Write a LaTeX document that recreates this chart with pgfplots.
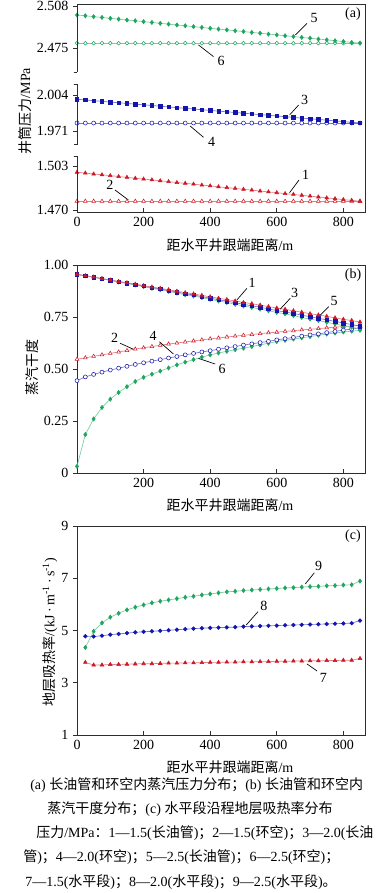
\documentclass[border=0pt]{standalone}
\usepackage{fontspec}
\setmainfont{Liberation Serif}
\newfontfamily\cjk{Noto Sans CJK SC}
\usepackage{pgfplots}
\pgfplotsset{compat=1.18}
\usepackage{pgfplotstable}
\newcommand\fs{\fontsize{10.5}{12.6}\selectfont}
\definecolor{rM}{RGB}{205,25,35}
\definecolor{rL}{RGB}{228,125,135}
\definecolor{bM}{RGB}{20,20,175}
\definecolor{bL}{RGB}{115,115,215}
\definecolor{gM}{RGB}{30,165,95}
\definecolor{gL}{RGB}{125,205,160}
\definecolor{ax}{RGB}{45,45,45}

\tikzset{ann/.style={draw=black, line width=0.5pt}, frm/.style={draw=ax, line width=0.6pt}}
\pgfplotsset{
 base/.style={scale only axis, width=216pt, xmin=0, xmax=865, tick pos=left,
   xtick align=inside, ytick align=outside, major tick length=3pt,
   axis line style={ax, line width=0.6pt}, tick style={ax, line width=0.6pt},
   tick label style={font=\fs}, label style={font=\fs},
   /pgf/number format/assume math mode=true, clip=false},
 seg/.style={axis line style={draw=none}, ytick pos=left},
 sR/.style={draw=rL, line width=0.5pt, mark=triangle*, mark size=1.6pt, mark options={draw=rM, fill=rM, solid, line width=0.4pt}},
 oR/.style={draw=rL, line width=0.5pt, mark=triangle*, mark size=1.6pt, mark options={draw=rM, fill=white, solid, line width=0.4pt}},
 sB/.style={draw=bL, line width=0.5pt, mark=square*, mark size=1.3pt, mark options={draw=bM, fill=bM, solid, line width=0.4pt}},
 oB/.style={draw=bL, line width=0.5pt, mark=*, mark size=1.5pt, mark options={draw=bM, fill=white, solid, line width=0.4pt}},
 sG/.style={draw=gL, line width=0.5pt, mark=diamond*, mark size=1.6pt, mark options={draw=gM, fill=gM, solid, line width=0.4pt}},
 oG/.style={draw=gL, line width=0.5pt, mark=*, mark size=1.4pt, mark options={draw=gM, fill=white, solid, line width=0.4pt}},
}

\pgfplotstableread{
x s1 s2 s3 s4 s5 s6
0 1.4985 1.4768 2.0001 1.9783 2.5010 2.4790
25 1.4979 1.4768 1.9995 1.9783 2.5004 2.4790
50 1.4972 1.4768 1.9988 1.9783 2.4997 2.4790
75 1.4966 1.4768 1.9982 1.9783 2.4991 2.4790
100 1.4960 1.4768 1.9975 1.9783 2.4984 2.4790
125 1.4953 1.4768 1.9969 1.9783 2.4978 2.4790
150 1.4947 1.4768 1.9963 1.9783 2.4971 2.4790
175 1.4940 1.4768 1.9956 1.9783 2.4965 2.4790
200 1.4934 1.4768 1.9950 1.9783 2.4958 2.4790
225 1.4928 1.4768 1.9944 1.9783 2.4952 2.4790
250 1.4921 1.4768 1.9937 1.9783 2.4945 2.4790
275 1.4915 1.4768 1.9931 1.9783 2.4939 2.4790
300 1.4908 1.4768 1.9924 1.9783 2.4932 2.4790
325 1.4902 1.4768 1.9918 1.9783 2.4926 2.4790
350 1.4896 1.4768 1.9912 1.9783 2.4919 2.4790
375 1.4889 1.4768 1.9905 1.9783 2.4913 2.4790
400 1.4883 1.4768 1.9899 1.9783 2.4906 2.4790
425 1.4876 1.4768 1.9892 1.9783 2.4900 2.4790
450 1.4870 1.4768 1.9886 1.9783 2.4894 2.4790
475 1.4864 1.4768 1.9880 1.9783 2.4887 2.4790
500 1.4857 1.4768 1.9873 1.9783 2.4881 2.4790
525 1.4851 1.4768 1.9867 1.9783 2.4874 2.4790
550 1.4844 1.4768 1.9860 1.9783 2.4868 2.4790
575 1.4838 1.4768 1.9854 1.9783 2.4861 2.4790
600 1.4832 1.4768 1.9848 1.9783 2.4855 2.4790
625 1.4825 1.4768 1.9841 1.9783 2.4848 2.4790
650 1.4819 1.4768 1.9835 1.9783 2.4842 2.4790
675 1.4812 1.4768 1.9828 1.9783 2.4835 2.4790
700 1.4806 1.4768 1.9822 1.9783 2.4829 2.4790
725 1.4800 1.4768 1.9816 1.9783 2.4822 2.4790
750 1.4793 1.4768 1.9809 1.9783 2.4816 2.4790
775 1.4787 1.4768 1.9803 1.9783 2.4809 2.4790
800 1.4780 1.4768 1.9796 1.9783 2.4803 2.4790
825 1.4774 1.4768 1.9790 1.9783 2.4796 2.4790
850 1.4768 1.4768 1.9783 1.9783 2.4790 2.4790
}\tA

\pgfplotstableread{
x b1 b2 b3 b4 b5 b6
0 0.955 0.547 0.955 0.444 0.955 0.032
25 0.948 0.554 0.948 0.462 0.948 0.185
50 0.942 0.561 0.942 0.474 0.941 0.260
75 0.935 0.568 0.934 0.485 0.934 0.315
100 0.928 0.575 0.927 0.495 0.926 0.355
125 0.921 0.582 0.920 0.504 0.918 0.387
150 0.915 0.589 0.913 0.513 0.911 0.415
175 0.908 0.596 0.906 0.522 0.904 0.440
200 0.901 0.602 0.899 0.530 0.896 0.460
225 0.894 0.608 0.891 0.538 0.888 0.475
250 0.888 0.614 0.885 0.545 0.881 0.490
275 0.881 0.620 0.877 0.553 0.873 0.505
300 0.874 0.625 0.870 0.560 0.865 0.520
325 0.867 0.630 0.862 0.568 0.857 0.533
350 0.861 0.635 0.856 0.575 0.851 0.545
375 0.854 0.640 0.848 0.582 0.843 0.557
400 0.847 0.645 0.841 0.588 0.835 0.568
425 0.840 0.649 0.833 0.595 0.827 0.577
450 0.834 0.654 0.826 0.602 0.820 0.585
475 0.827 0.658 0.819 0.608 0.811 0.593
500 0.820 0.662 0.811 0.615 0.803 0.600
525 0.814 0.666 0.804 0.621 0.796 0.608
550 0.807 0.670 0.797 0.627 0.788 0.616
575 0.800 0.674 0.789 0.633 0.780 0.624
600 0.793 0.677 0.781 0.640 0.772 0.632
625 0.787 0.681 0.774 0.646 0.765 0.638
650 0.780 0.684 0.767 0.652 0.757 0.644
675 0.773 0.688 0.759 0.658 0.748 0.650
700 0.766 0.691 0.751 0.664 0.740 0.656
725 0.760 0.694 0.744 0.669 0.733 0.662
750 0.753 0.698 0.736 0.675 0.725 0.668
775 0.746 0.701 0.729 0.681 0.717 0.673
800 0.739 0.704 0.721 0.687 0.708 0.678
825 0.733 0.707 0.714 0.692 0.701 0.682
850 0.726 0.710 0.706 0.698 0.693 0.686
}\tB

\pgfplotstableread{
x c7 c8 c9
25 3.78 4.78 4.35
50 3.68 4.77 4.97
75 3.68 4.80 5.29
100 3.70 4.84 5.51
125 3.70 4.87 5.66
150 3.71 4.90 5.79
175 3.72 4.93 5.89
200 3.73 4.95 5.98
225 3.73 4.97 6.06
250 3.74 4.99 6.12
275 3.75 5.01 6.17
300 3.75 5.03 6.22
325 3.76 5.05 6.27
350 3.76 5.07 6.31
375 3.77 5.09 6.36
400 3.78 5.10 6.40
425 3.78 5.11 6.44
450 3.79 5.12 6.48
475 3.79 5.13 6.50
500 3.80 5.15 6.53
525 3.80 5.16 6.55
550 3.81 5.17 6.57
575 3.81 5.18 6.59
600 3.82 5.19 6.61
625 3.82 5.20 6.63
650 3.83 5.21 6.64
675 3.83 5.22 6.66
700 3.84 5.23 6.68
725 3.84 5.24 6.69
750 3.85 5.25 6.71
775 3.85 5.26 6.72
800 3.86 5.27 6.74
825 3.86 5.28 6.75
850 3.93 5.38 6.89
}\tC

\begin{document}
\begin{tikzpicture}
\useasboundingbox (0,0) rectangle (285.75pt,-669.75pt);

% ---------- panel (a), top segment
\begin{axis}[base, seg, at={(57.75pt,-3pt)}, anchor=north west, height=51pt,
  ymin=2.4565, ymax=2.5096, xtick=\empty,
  ytick={2.475,2.508}, yticklabels={2.475,2.508}]
\addplot[oG] table[x=x,y=s6]{\tA};
\addplot[sG] table[x=x,y=s5]{\tA};
\draw[ann] (axis cs:690.8,2.4945) -- (axis cs:655.6,2.4854);
\node[font=\fs] at (axis cs:712,2.4985) {5};
\draw[ann] (axis cs:410,2.4685) -- (axis cs:365,2.4776);
\node[font=\fs] at (axis cs:433,2.4655) {6};
\node[font=\fs] at (axis cs:829,2.5015) {(a)};
\end{axis}

% ---------- panel (a), middle segment
\begin{axis}[base, seg, at={(57.75pt,-63pt)}, anchor=north west, height=45.375pt,
  ymin=1.9586, ymax=2.0141, xtick=\empty,
  ytick={1.971,2.004}, yticklabels={1.971,2.004},
  ylabel={{\cjk 井筒压力}/MPa},
  ylabel style={at={(axis description cs:-0.181,0.554)}, anchor=center}]
\addplot[oB] table[x=x,y=s4]{\tA};
\addplot[sB] table[x=x,y=s3]{\tA};
\draw[ann] (axis cs:665.6,1.9948) -- (axis cs:638.5,1.9857);
\node[font=\fs] at (axis cs:684,1.9998) {3};
\draw[ann] (axis cs:380,1.9652) -- (axis cs:339.8,1.9756);
\node[font=\fs] at (axis cs:404,1.9608) {4};
\end{axis}

% ---------- panel (a), bottom segment
\begin{axis}[base, seg, at={(57.75pt,-117pt)}, anchor=north west, height=42pt,
  ymin=1.4687, ymax=1.5107,
  xtick={0,200,400,600,800}, xtick pos=left,
  ytick={1.470,1.503}, yticklabels={1.470,1.503},
  xlabel={{\cjk 距水平井跟端距离}/m},
  xlabel style={at={(axis description cs:0.531,-0.589)}, anchor=center}]
\addplot[oR] table[x=x,y=s2]{\tA};
\addplot[sR] table[x=x,y=s1]{\tA};
\draw[ann] (axis cs:666.8,1.4927) -- (axis cs:638.5,1.4832);
\node[font=\fs] at (axis cs:687,1.4968) {1};
\draw[ann] (axis cs:114.3,1.4852) -- (axis cs:154.3,1.4777);
\node[font=\fs] at (axis cs:99,1.4893) {2};
\end{axis}

% frame of panel (a) with broken left axis
\draw[frm] (57.75pt,-54pt) -- (57.75pt,-3pt) -- (273.75pt,-3pt) -- (273.75pt,-159pt) -- (57.75pt,-159pt) -- (57.75pt,-117pt);
\draw[frm] (57.75pt,-63pt) -- (57.75pt,-108.375pt);
\foreach \yy in {-54pt,-63pt,-108.375pt,-117pt}
  \draw[frm] (55.2pt,\yy) -- (57.75pt,\yy);

% ---------- panel (b)
\begin{axis}[base, at={(57.75pt,-198.75pt)}, anchor=north west, height=156pt,
  ymin=0, ymax=1, xtick={200,400,600,800},
  ytick={0,0.25,0.5,0.75,1}, yticklabels={0,0.25,0.50,0.75,1.00},
  ylabel={\cjk 蒸汽干度},
  ylabel style={at={(axis description cs:-0.157,0.505)}, anchor=center},
  xlabel={{\cjk 距水平井跟端距离}/m},
  xlabel style={at={(axis description cs:0.531,-0.154)}, anchor=center}]
\addplot[sG] table[x=x,y=b6]{\tB};
\addplot[oB] table[x=x,y=b4]{\tB};
\addplot[oR] table[x=x,y=b2]{\tB};
\addplot[sG] table[x=x,y=b5]{\tB};
\addplot[sB] table[x=x,y=b3]{\tB};
\addplot[sR] table[x=x,y=b1]{\tB};
\draw[ann] (axis cs:510.4,0.888) -- (axis cs:480.3,0.832);
\node[font=\fs] at (axis cs:526,0.915) {1};
\draw[ann] (axis cs:640.6,0.840) -- (axis cs:610.5,0.788);
\node[font=\fs] at (axis cs:654,0.866) {3};
\draw[ann] (axis cs:756,0.800) -- (axis cs:721,0.744);
\node[font=\fs] at (axis cs:772,0.826) {5};
\draw[ann] (axis cs:129.3,0.624) -- (axis cs:169.4,0.595);
\node[font=\fs] at (axis cs:113,0.650) {2};
\draw[ann] (axis cs:247.6,0.631) -- (axis cs:289.7,0.572);
\node[font=\fs] at (axis cs:229,0.658) {4};
\draw[ann] (axis cs:415,0.524) -- (axis cs:364.9,0.551);
\node[font=\fs] at (axis cs:436,0.500) {6};
\node[font=\fs] at (axis cs:829,0.952) {(b)};
\end{axis}

% ---------- panel (c)
\begin{axis}[base, at={(57.75pt,-394.5pt)}, anchor=north west, height=156.75pt,
  ymin=1, ymax=9, xtick={0,200,400,600,800}, ytick={1,3,5,7,9},
  ylabel={{\cjk 地层吸热率}/(kJ\,·\,m\textsuperscript{-1}\,·\,s\textsuperscript{-1})},
  ylabel style={at={(axis description cs:-0.094,0.493)}, anchor=center},
  xlabel={{\cjk 距水平井跟端距离}/m},
  xlabel style={at={(axis description cs:0.531,-0.152)}, anchor=center}]
\addplot[sR] table[x=x,y=c7]{\tC};
\addplot[sB, mark=*, mark size=1.4pt] table[x=x,y=c8]{\tC};
\addplot[sG] table[x=x,y=c9]{\tC};
\draw[ann] (axis cs:712.8,7.21) -- (axis cs:685.7,6.78);
\node[font=\fs] at (axis cs:726,7.46) {9};
\draw[ann] (axis cs:543.5,5.72) -- (axis cs:508.3,5.21);
\node[font=\fs] at (axis cs:561,5.96) {8};
\draw[ann] (axis cs:721,3.45) -- (axis cs:690.8,3.72);
\node[font=\fs] at (axis cs:740,3.20) {7};
\node[font=\fs] at (axis cs:829,8.62) {(c)};
\end{axis}

% ---------- caption
\node[anchor=west, font=\fs, inner sep=0pt] at (22.5pt,-588.75pt)
  {(a) {\cjk 长油管和环空内蒸汽压力分布；}(b) {\cjk 长油管和环空内}};
\node[anchor=center, font=\fs, inner sep=0pt] at (142.5pt,-606.75pt)
  {{\cjk 蒸汽干度分布；}(c) {\cjk 水平段沿程地层吸热率分布}};
\node[anchor=west, font=\fs, inner sep=0pt] at (27pt,-624.75pt)
  {{\cjk 压力}/MPa{\cjk ：}1—1.5({\cjk 长油管}){\cjk ；}2—1.5({\cjk 环空}){\cjk ；}3—2.0({\cjk 长油}};
\node[anchor=west, font=\fs, inner sep=0pt] at (17.25pt,-642.75pt)
  {{\cjk 管}){\cjk ；}4—2.0({\cjk 环空}){\cjk ；}5—2.5({\cjk 长油管}){\cjk ；}6—2.5({\cjk 环空}){\cjk ；}};
\node[anchor=west, font=\fs, inner sep=0pt] at (18.75pt,-661.5pt)
  {7—1.5({\cjk 水平段}){\cjk ；}8—2.0({\cjk 水平段}){\cjk ；}9—2.5({\cjk 水平段}){\cjk 。}};
\end{tikzpicture}
\end{document}
